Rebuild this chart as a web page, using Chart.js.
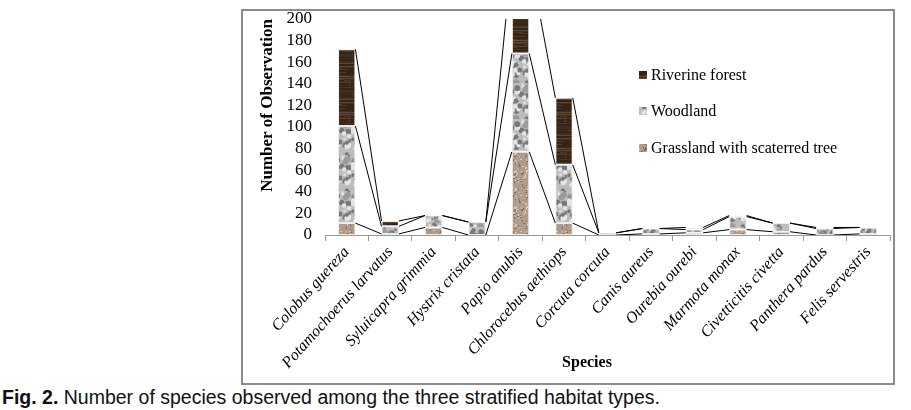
<!DOCTYPE html>
<html><head><meta charset="utf-8">
<script src="https://cdn.jsdelivr.net/npm/chart.js@4.4.0/dist/chart.umd.min.js"></script>
<style>
html,body{margin:0;padding:0;background:#fff;width:911px;height:410px;overflow:hidden;}
#box{position:absolute;left:241px;top:9px;width:650px;height:372px;border:2px solid #8c8c8c;}
#c{position:absolute;left:0;top:0;}
#cap{position:absolute;left:2px;top:386px;font-family:"Liberation Sans",Arial,sans-serif;font-size:19.5px;color:#111;white-space:nowrap;}
</style></head><body>
<div id="box"><canvas id="c" width="650" height="372"></canvas></div>
<div id="cap"><b>Fig. 2.</b> Number of species observed among the three stratified habitat types.</div>
<script>
const categories = ["Colobus guereza","Potamochoerus larvatus","Syluicapra grimmia","Hystrix cristata","Papio anubis","Chlorocebus aethiops","Corcuta corcuta","Canis aureus","Ourebia ourebi","Marmota monax","Civetticitis civetta","Panthera pardus","Felis servestris"];
const grassland = [11, 1, 7, 0, 77, 11, 0, 1, 2, 5, 3, 0, 1];
const woodland  = [90, 7, 11, 12, 91, 54, 2, 5, 3, 12, 8, 6, 6];
const riverine  = [71, 5, 0, 0, 88, 62, 0, 0, 2, 1, 0, 1, 0];
const yTicks = [0,20,40,60,80,100,120,140,160,180,200];
const seriesNames = ["Grassland with scaterred tree","Woodland","Riverine forest"];

function hash(i,j,s){const v=Math.sin(i*12.9898+j*78.233+s*37.719)*43758.5453;return v-Math.floor(v);}
function makePattern(kind){
  const c=document.createElement('canvas');c.width=36;c.height=36;const x=c.getContext('2d');
  if(kind==='wood'){
    for(let r=0;r<36;r++){
      const h=hash(r,1,3);
      let col = h>0.88?'rgb(92,70,46)':(h>0.55?'rgb(64,45,30)':'rgb(52,36,24)');
      x.fillStyle=col;x.fillRect(0,r,36,1);
    }
    for(let k=0;k<20;k++){x.fillStyle='rgba(106,82,54,0.45)';x.fillRect(Math.floor(hash(k,2,5)*36),Math.floor(hash(k,3,7)*36),Math.floor(8+hash(k,4,1)*16),1);}
  } else if(kind==='granite'){
    x.fillStyle='rgb(188,188,190)';x.fillRect(0,0,36,36);
    for(let k=0;k<80;k++){
      const px=hash(k,5,2)*36,py=hash(k,6,3)*36,r=0.8+hash(k,7,4)*2.2,t=hash(k,8,9);
      x.fillStyle=t>0.55?'rgb(120,120,124)':(t>0.25?'rgb(155,155,158)':'rgb(228,228,230)');
      x.beginPath();x.arc(px,py,r,0,Math.PI*2);x.fill();
    }
  } else {
    x.fillStyle='rgb(176,156,136)';x.fillRect(0,0,36,36);
    for(let k=0;k<130;k++){
      const px=Math.floor(hash(k,9,2)*36),py=Math.floor(hash(k,10,3)*36),t=hash(k,11,4);
      x.fillStyle=t>0.5?'rgb(132,108,88)':'rgb(214,200,186)';
      x.fillRect(px,py,1+Math.floor(hash(k,12,6)*2),1+Math.floor(hash(k,13,6)*2));
    }
  }
  return document.getElementById('c').getContext('2d').createPattern(c,'repeat');
}
const pGrass=makePattern('grass'), pWood=makePattern('granite'), pRiver=makePattern('wood');

const seriesLines={
  id:'seriesLines',
  afterDatasetsDraw(chart){
    const {ctx,chartArea:a}=chart;
    ctx.save();
    ctx.beginPath();ctx.rect(a.left,a.top,a.right-a.left,a.bottom-a.top);ctx.clip();
    ctx.strokeStyle='#000';ctx.lineWidth=1;
    chart.data.datasets.forEach((ds,i)=>{
      const meta=chart.getDatasetMeta(i);
      for(let j=0;j<meta.data.length-1;j++){
        const p1=meta.data[j].getProps(['x','y','width'],true);
        const p2=meta.data[j+1].getProps(['x','y','width'],true);
        ctx.beginPath();ctx.moveTo(p1.x+p1.width/2,p1.y);ctx.lineTo(p2.x-p2.width/2,p2.y);ctx.stroke();
      }
    });
    ctx.restore();
  }
};
const extras={
  id:'extras',
  afterDraw(chart){
    const ctx=chart.ctx;
    ctx.save();
    const ds=chart.data.datasets;
    const rows=[64,100,137];
    for(let k=0;k<3;k++){
      const d=ds[2-k];
      ctx.fillStyle=d.backgroundColor;ctx.fillRect(396,rows[k]-4,8,8);
      ctx.fillStyle='#000';ctx.font='16px "Liberation Serif", "Times New Roman", serif';
      ctx.textBaseline='middle';ctx.textAlign='left';
      ctx.fillText(d.label,408,rows[k]+1);
    }
    ctx.font='bold 16px "Liberation Serif", "Times New Roman", serif';
    ctx.textAlign='center';ctx.textBaseline='middle';
    ctx.fillText('Species',344,352);
    ctx.restore();
  }
};

new Chart(document.getElementById('c'),{
  type:'bar',
  data:{
    labels:categories,
    datasets:[
      {label:seriesNames[0],data:grassland,backgroundColor:pGrass,borderColor:'#ececec',borderWidth:1,borderSkipped:false},
      {label:seriesNames[1],data:woodland,backgroundColor:pWood,borderColor:'#ececec',borderWidth:1,borderSkipped:false},
      {label:seriesNames[2],data:riverine,backgroundColor:pRiver,borderColor:'#ececec',borderWidth:1,borderSkipped:false}
    ]
  },
  options:{
    responsive:false,animation:false,
    layout:{padding:{left:0,top:8,right:3,bottom:0}},
    datasets:{bar:{barPercentage:0.4,categoryPercentage:1}},
    plugins:{legend:{display:false},tooltip:{enabled:false}},
    scales:{
      x:{stacked:true,
        grid:{drawOnChartArea:false,color:'#999',tickLength:6,offset:true},
        border:{color:'#999'},
        ticks:{color:'#000',minRotation:48,maxRotation:48,padding:2,autoSkip:false,
          font:{family:'"Liberation Serif", "Times New Roman", serif',size:16,style:'italic'}},
        afterFit(s){s.height=148;s.paddingLeft=0;s.paddingRight=0;}
      },
      y:{stacked:true,min:0,max:200,
        afterBuildTicks(s){s.ticks=yTicks.map(v=>({value:v}));},
        grid:{display:false,drawTicks:false},
        border:{display:false},
        ticks:{color:'#000',padding:13,autoSkip:false,font:{family:'"Liberation Serif", "Times New Roman", serif',size:17}},
        title:{display:true,text:'Number of Observation',align:'end',color:'#000',padding:{top:14,bottom:4},
          font:{family:'"Liberation Serif", "Times New Roman", serif',size:17,weight:'bold',lineHeight:1.2}},
        afterFit(s){s.width=82;s.paddingTop=0;s.paddingBottom=0;}
      }
    }
  },
  plugins:[seriesLines,extras]
});
</script>
</body></html>
